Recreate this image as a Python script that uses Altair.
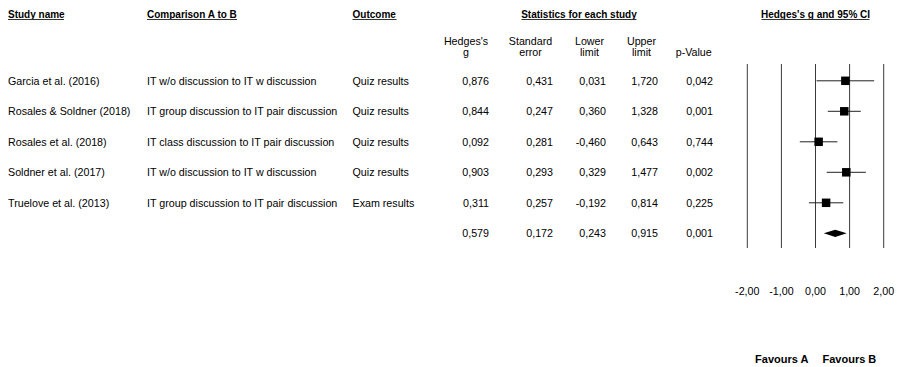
import altair as alt
import pandas as pd

# ---- study data -------------------------------------------------------
studies = [
    "Garcia et al. (2016)",
    "Rosales & Soldner (2018)",
    "Rosales et al. (2018)",
    "Soldner et al. (2017)",
    "Truelove et al. (2013)",
]
comparisons = [
    "IT w/o discussion to IT w discussion",
    "IT group discussion to IT pair discussion",
    "IT class discussion to IT pair discussion",
    "IT w/o discussion to IT w discussion",
    "IT group discussion to IT pair discussion",
]
outcomes = ["Quiz results", "Quiz results", "Quiz results", "Quiz results", "Exam results"]
hedges_g = [0.876, 0.844, 0.092, 0.903, 0.311]
std_err = [0.431, 0.247, 0.281, 0.293, 0.257]
lower = [0.031, 0.360, -0.460, 0.329, -0.192]
upper = [1.720, 1.328, 0.643, 1.477, 0.814]
p_value = [0.042, 0.001, 0.744, 0.002, 0.225]

# pooled (summary) estimate
pooled_g = 0.579
pooled_se = 0.172
pooled_lower = 0.243
pooled_upper = 0.915
pooled_p = 0.001

axis_ticks = [-2, -1, 0, 1, 2]
favours = ["Favours A", "Favours B"]

# ---- layout / style ---------------------------------------------------
FONT = "Liberation Sans"
BODY_SIZE = 10.7
TEXT_COLOR = "#000000"
LINE_COLOR = "#3a3a3a"
W, H = 900, 367


def comma(v, digits=3):
    return f"{v:.{digits}f}".replace(".", ",")


n = len(studies)
rows = list(range(n))
study_df = pd.DataFrame({
    "row": rows,
    "study": studies,
    "comparison": comparisons,
    "outcome": outcomes,
    "g": hedges_g,
    "lower": lower,
    "upper": upper,
})

stats_df = pd.DataFrame({
    "row": rows + [n],
    "g": hedges_g + [pooled_g],
    "se": std_err + [pooled_se],
    "lower": lower + [pooled_lower],
    "upper": upper + [pooled_upper],
    "p": p_value + [pooled_p],
})
for col in ["g", "se", "lower", "upper", "p"]:
    stats_df[col + "_txt"] = stats_df[col].map(comma)

# diamond outline for the pooled estimate: tips at the CI limits, widest at g
half = 0.12
diamond_df = pd.DataFrame({
    "x": [pooled_lower, pooled_g, pooled_upper],
    "y": [n, n - half, n],
    "y2": [n, n + half, n],
})

ticks_df = pd.DataFrame({"v": axis_ticks, "label": [comma(t, 2) for t in axis_ticks]})
fav_df = pd.DataFrame({"v": [0, 0], "label": favours})

xscale = alt.Scale(domain=[-2, 2], range=[747.3, 883.7], nice=False, zero=False)
yscale = alt.Scale(domain=[0, n], range=[80.8, 233.3], nice=False, zero=False)
Y = alt.Y("row:Q", scale=yscale, axis=None)

one = pd.DataFrame({"k": [0]})


def label(s, x, y, align="left", bold=False, size=BODY_SIZE):
    return alt.Chart(one).mark_text(
        text=s, align=align, baseline="middle", font=FONT, fontSize=size,
        fontWeight="bold" if bold else "normal", color=TEXT_COLOR,
    ).encode(x=alt.value(x), y=alt.value(y))


def underline(x1, x2, y=19.5):
    return alt.Chart(one).mark_rule(color="#333333", strokeWidth=1).encode(
        x=alt.value(x1), x2=alt.value(x2), y=alt.value(y)
    )


layers = []

# section headers (bold, underlined)
headers = [
    ("Study name", 8, "left", (8, 64)),
    ("Comparison A to B", 147, "left", (147, 237)),
    ("Outcome", 352.5, "left", (352.5, 396.5)),
    ("Statistics for each study", 579, "center", (521.5, 636.5)),
    ("Hedges's g and 95% CI", 815.5, "center", (761.5, 869.5)),
]
for text, x, align, (u1, u2) in headers:
    layers.append(label(text, x, 15, align=align, bold=True, size=10))
    layers.append(underline(u1, u2))

# statistic column headers
col_heads = [
    ("Hedges's", "g", 466),
    ("Standard", "error", 530.5),
    ("Lower", "limit", 589.5),
    ("Upper", "limit", 641.5),
]
for l1, l2, x in col_heads:
    layers.append(label(l1, x, 41.5, align="center"))
    layers.append(label(l2, x, 53.3, align="center"))
layers.append(label("p-Value", 693.7, 53.3, align="center"))

# text columns per study
text_cols = [("study:N", 8), ("comparison:N", 147), ("outcome:N", 352.5)]
for field, x in text_cols:
    layers.append(
        alt.Chart(study_df).mark_text(
            align="left", baseline="middle", font=FONT, fontSize=BODY_SIZE,
            color=TEXT_COLOR, dy=1
        ).encode(x=alt.value(x), y=Y, text=field)
    )

# numeric columns (right aligned)
num_cols = [("g_txt", 489), ("se_txt", 553), ("lower_txt", 606), ("upper_txt", 658), ("p_txt", 713)]
for field, x in num_cols:
    layers.append(
        alt.Chart(stats_df).mark_text(
            align="right", baseline="middle", font=FONT, fontSize=BODY_SIZE,
            color=TEXT_COLOR, dy=1
        ).encode(x=alt.value(x), y=Y, text=f"{field}:N")
    )

# forest plot: vertical reference lines
layers.append(
    alt.Chart(ticks_df).mark_rule(color=LINE_COLOR, strokeWidth=1).encode(
        x=alt.X("v:Q", scale=xscale, axis=None), y=alt.value(64), y2=alt.value(248)
    )
)
# tick labels
layers.append(
    alt.Chart(ticks_df).mark_text(
        align="center", baseline="middle", font=FONT, fontSize=BODY_SIZE, color=TEXT_COLOR
    ).encode(x=alt.X("v:Q", scale=xscale, axis=None), y=alt.value(292), text="label:N")
)
# confidence intervals
layers.append(
    alt.Chart(study_df).mark_rule(color="#222222", strokeWidth=1).encode(
        x=alt.X("lower:Q", scale=xscale, axis=None), x2="upper:Q", y=Y
    )
)
# point estimates
layers.append(
    alt.Chart(study_df).mark_square(size=72, color="#000000", opacity=1, filled=True).encode(
        x=alt.X("g:Q", scale=xscale, axis=None), y=Y
    )
)
# pooled diamond
layers.append(
    alt.Chart(diamond_df).mark_area(color="#000000", orient="vertical", opacity=1).encode(
        x=alt.X("x:Q", scale=xscale, axis=None),
        y=alt.Y("y:Q", scale=yscale, axis=None),
        y2="y2:Q",
    )
)
# favours labels
layers.append(
    alt.Chart(fav_df).transform_filter(alt.datum.label == favours[0]).mark_text(
        align="right", baseline="middle", font=FONT, fontSize=11, fontWeight="bold",
        color=TEXT_COLOR, dx=-7
    ).encode(x=alt.X("v:Q", scale=xscale, axis=None), y=alt.value(360), text="label:N")
)
layers.append(
    alt.Chart(fav_df).transform_filter(alt.datum.label == favours[1]).mark_text(
        align="left", baseline="middle", font=FONT, fontSize=11, fontWeight="bold",
        color=TEXT_COLOR, dx=7
    ).encode(x=alt.X("v:Q", scale=xscale, axis=None), y=alt.value(360), text="label:N")
)

chart = (
    alt.layer(*layers)
    .properties(width=W, height=H, autosize=alt.AutoSizeParams(type="none"), padding=0,
                background="white")
    .configure_view(stroke=None)
)

chart.save("out.html", embed_options={"renderer": "svg", "actions": False})
